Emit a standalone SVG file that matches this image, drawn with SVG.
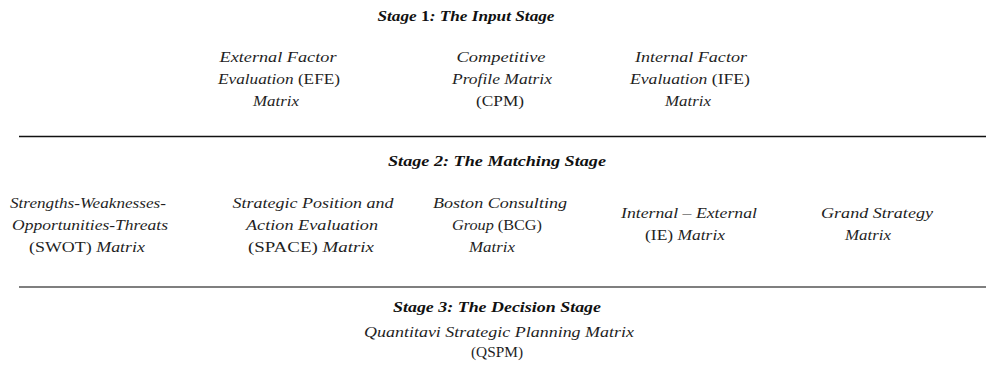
<svg xmlns="http://www.w3.org/2000/svg" width="986" height="376" viewBox="0 0 986 376">
  <style>
    text { font-family: "Liberation Serif", "Times New Roman", "DejaVu Serif", serif; font-size: 15px; fill: #1f1f1f; text-anchor: middle; }
    .title { font-weight: bold; font-style: italic; fill: #111; }
    .it { font-style: italic; }
    .up { font-style: normal; }
    .rule { stroke: #111; stroke-width: 1.5; }
    .rule2 { stroke: #555; stroke-width: 1.5; }
  </style>
  <rect width="986" height="376" fill="#fff"/>

  <!-- Stage separators -->
  <g id="connectors">
    <line class="rule" x1="19" y1="136.5" x2="986" y2="136.5"/>
    <line class="rule2" x1="19" y1="287" x2="986" y2="287"/>
  </g>

  <!-- Stage 1: input -->
  <g id="stage1-title"><text class="title" x="466" y="21" textLength="177" lengthAdjust="spacingAndGlyphs">Stage <tspan class="up">1</tspan>: The Input Stage</text></g>
  <g id="efe">
    <text class="it" x="278" y="62" textLength="117" lengthAdjust="spacingAndGlyphs">External Factor</text>
    <text x="279" y="84" textLength="122" lengthAdjust="spacingAndGlyphs"><tspan class="it">Evaluation</tspan> (EFE)</text>
    <text class="it" x="276" y="106" textLength="46" lengthAdjust="spacingAndGlyphs">Matrix</text>
  </g>
  <g id="cpm">
    <text class="it" x="501" y="62" textLength="89" lengthAdjust="spacingAndGlyphs">Competitive</text>
    <text class="it" x="502" y="84" textLength="100" lengthAdjust="spacingAndGlyphs">Profile Matrix</text>
    <text x="500" y="106" textLength="48" lengthAdjust="spacingAndGlyphs">(CPM)</text>
  </g>
  <g id="ife">
    <text class="it" x="691" y="62" textLength="112" lengthAdjust="spacingAndGlyphs">Internal Factor</text>
    <text x="690" y="84" textLength="120" lengthAdjust="spacingAndGlyphs"><tspan class="it">Evaluation</tspan> (IFE)</text>
    <text class="it" x="688" y="106" textLength="46" lengthAdjust="spacingAndGlyphs">Matrix</text>
  </g>

  <!-- Stage 2: matching -->
  <g id="stage2-title"><text class="title" x="497" y="166" textLength="218" lengthAdjust="spacingAndGlyphs">Stage 2: The Matching Stage</text></g>
  <g id="swot">
    <text class="it" x="88" y="208" textLength="156" lengthAdjust="spacingAndGlyphs">Strengths-Weaknesses-</text>
    <text class="it" x="90" y="230" textLength="156" lengthAdjust="spacingAndGlyphs">Opportunities-Threats</text>
    <text x="87" y="252" textLength="116" lengthAdjust="spacingAndGlyphs">(SWOT) <tspan class="it">Matrix</tspan></text>
  </g>
  <g id="space">
    <text class="it" x="313" y="208" textLength="161" lengthAdjust="spacingAndGlyphs">Strategic Position and</text>
    <text class="it" x="312" y="230" textLength="132" lengthAdjust="spacingAndGlyphs">Action Evaluation</text>
    <text x="311" y="252" textLength="126" lengthAdjust="spacingAndGlyphs">(SPACE) <tspan class="it">Matrix</tspan></text>
  </g>
  <g id="bcg">
    <text class="it" x="500" y="208" textLength="134" lengthAdjust="spacingAndGlyphs">Boston Consulting</text>
    <text x="497" y="230" textLength="90" lengthAdjust="spacingAndGlyphs"><tspan class="it">Group</tspan> (BCG)</text>
    <text class="it" x="492" y="252" textLength="46" lengthAdjust="spacingAndGlyphs">Matrix</text>
  </g>
  <g id="ie">
    <text class="it" x="689" y="218" textLength="136" lengthAdjust="spacingAndGlyphs">Internal – External</text>
    <text x="685" y="240" textLength="80" lengthAdjust="spacingAndGlyphs">(IE) <tspan class="it">Matrix</tspan></text>
  </g>
  <g id="grand">
    <text class="it" x="877" y="218" textLength="112" lengthAdjust="spacingAndGlyphs">Grand Strategy</text>
    <text class="it" x="868" y="240" textLength="46" lengthAdjust="spacingAndGlyphs">Matrix</text>
  </g>

  <!-- Stage 3: decision -->
  <g id="stage3-title"><text class="title" x="497" y="312" textLength="208" lengthAdjust="spacingAndGlyphs">Stage 3: The Decision Stage</text></g>
  <g id="qspm">
    <text class="it" x="499" y="337" textLength="270" lengthAdjust="spacingAndGlyphs">Quantitavi Strategic Planning Matrix</text>
    <text x="497" y="357" textLength="52" lengthAdjust="spacingAndGlyphs">(QSPM)</text>
  </g>
</svg>
